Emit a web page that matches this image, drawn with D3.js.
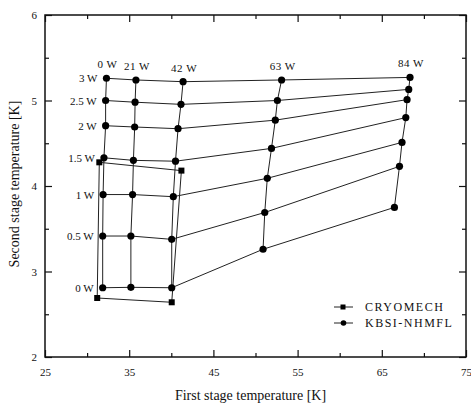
<!DOCTYPE html>
<html>
<head>
<meta charset="utf-8">
<script src="https://cdn.jsdelivr.net/npm/d3@7"></script>
<style>
  body { margin: 0; background: #fff; }
  svg text { font-family: "Liberation Serif", "DejaVu Serif", serif !important; fill: #111; }
</style>
</head>
<body>
<div id="chart"></div>
<script>
// first stage heat loads (columns) and second stage heat loads (rows)
var firstLoads = ['0 W', '21 W', '42 W', '63 W', '84 W'];
var secondLoads = ['0 W', '0.5 W', '1 W', '1.5 W', '2 W', '2.5 W', '3 W'];

// KBSI-NHMFL: first stage temperature per column, ordered by second stage load
var kbsiFirst = [
  [31.85, 31.85, 31.9, 32.0, 32.2, 32.2, 32.3],
  [35.2, 35.2, 35.4, 35.5, 35.65, 35.7, 35.8],
  [40.05, 40.05, 40.24, 40.5, 40.8, 41.15, 41.4],
  [50.9, 51.1, 51.4, 51.9, 52.35, 52.6, 53.1],
  [66.5, 67.1, 67.4, 67.85, 68.0, 68.2, 68.35]
];
// KBSI-NHMFL: second stage temperature
var kbsiSecond = [
  [2.81, 3.415, 3.9, 4.33, 4.705, 5.0, 5.26],
  [2.815, 3.415, 3.9, 4.3, 4.69, 4.98, 5.24],
  [2.81, 3.376, 3.875, 4.29, 4.67, 4.955, 5.22],
  [3.26, 3.69, 4.09, 4.44, 4.77, 5.0, 5.24],
  [3.75, 4.23, 4.51, 4.8, 5.01, 5.13, 5.27]
];

// CRYOMECH: 2 x 2 grid (columns x rows)
var cryoFirst = [[31.2, 31.45], [40.05, 41.2]];
var cryoSecond = [[2.69, 4.277], [2.64, 4.18]];

var xTicks = [25, 35, 45, 55, 65, 75];
var yTicks = [2, 3, 4, 5, 6];

var margin = { top: 15, right: 5, bottom: 51, left: 45 },
  width = 471 - margin.left - margin.right,
  height = 408 - margin.top - margin.bottom;

var svg = d3
  .select('#chart')
  .append('svg')
  .attr('width', width + margin.left + margin.right)
  .attr('height', height + margin.top + margin.bottom)
  .append('g')
  .attr('transform', 'translate(' + margin.left + ',' + margin.top + ')');

var x = d3.scaleLinear().domain([25, 75]).range([0, width]);
var y = d3.scaleLinear().domain([2, 6]).range([height, 0]);

// ticks pointing inward on all four sides
function tickAxis(axisFn, scale, vals, size, label) {
  var a = axisFn(scale).tickValues(vals).tickSizeInner(size).tickSizeOuter(0);
  a.tickFormat(label ? d3.format('d') : '');
  return a;
}
var minorX = d3.range(30, 75, 10), minorY = d3.range(2.5, 6, 1);

svg.append('g').attr('transform', 'translate(0,' + height + ')')
  .call(tickAxis(d3.axisBottom, x, xTicks, -7, true))
  .call(function (g) {
    g.selectAll('text').attr('dy', null).attr('y', 19).style('font-size', '11px');
  });
svg.append('g').attr('transform', 'translate(0,' + height + ')')
  .call(tickAxis(d3.axisBottom, x, minorX, -4, false));
svg.append('g').call(tickAxis(d3.axisTop, x, xTicks, -7, false));
svg.append('g').call(tickAxis(d3.axisTop, x, minorX, -4, false));

svg.append('g')
  .call(tickAxis(d3.axisLeft, y, yTicks, -7, true))
  .call(function (g) {
    g.selectAll('text').attr('x', -8).style('font-size', '11px');
  });
svg.append('g').call(tickAxis(d3.axisLeft, y, minorY, -4, false));
svg.append('g').attr('transform', 'translate(' + width + ',0)')
  .call(tickAxis(d3.axisRight, y, yTicks, -7, false));
svg.append('g').attr('transform', 'translate(' + width + ',0)')
  .call(tickAxis(d3.axisRight, y, minorY, -4, false));

svg.selectAll('.domain').remove();
svg.selectAll('.tick line').attr('stroke', '#111').attr('stroke-width', 1.2);

// frame
svg.append('rect')
  .attr('width', width).attr('height', height)
  .attr('fill', 'none').attr('stroke', '#111').attr('stroke-width', 1.5);

// axis titles
svg.append('text')
  .attr('x', width / 2 - 5).attr('y', height + 43)
  .attr('text-anchor', 'middle').style('font-size', '14px')
  .text('First stage temperature [K]');
svg.append('text')
  .attr('transform', 'rotate(-90)')
  .attr('x', -height / 2 + 2).attr('y', -26)
  .attr('text-anchor', 'middle').style('font-size', '14px')
  .text('Second stage temperature [K]');

var line = d3.line()
  .x(function (d) { return x(d[0]); })
  .y(function (d) { return y(d[1]); });

function gridLines(T1, T2) {
  var cols = T1.length, rows = T1[0].length, paths = [];
  for (var c = 0; c < cols; c++) {
    paths.push(d3.range(rows).map(function (r) { return [T1[c][r], T2[c][r]]; }));
  }
  for (var r = 0; r < rows; r++) {
    paths.push(d3.range(cols).map(function (c) { return [T1[c][r], T2[c][r]]; }));
  }
  return paths;
}

var lineG = svg.append('g');
lineG.selectAll('path.cryo')
  .data(gridLines(cryoFirst, cryoSecond))
  .enter().append('path')
  .attr('d', line).attr('fill', 'none').attr('stroke', '#222').attr('stroke-width', 1);
lineG.selectAll('path.kbsi')
  .data(gridLines(kbsiFirst, kbsiSecond))
  .enter().append('path')
  .attr('d', line).attr('fill', 'none').attr('stroke', '#222').attr('stroke-width', 1);

var cryoPts = [], kbsiPts = [];
cryoFirst.forEach(function (col, c) {
  col.forEach(function (v, r) { cryoPts.push([v, cryoSecond[c][r]]); });
});
kbsiFirst.forEach(function (col, c) {
  col.forEach(function (v, r) { kbsiPts.push([v, kbsiSecond[c][r]]); });
});

svg.selectAll('rect.sq')
  .data(cryoPts).enter().append('rect')
  .attr('x', function (d) { return x(d[0]) - 3; })
  .attr('y', function (d) { return y(d[1]) - 3; })
  .attr('width', 6).attr('height', 6).attr('fill', '#000');

svg.selectAll('circle.dot')
  .data(kbsiPts).enter().append('circle')
  .attr('cx', function (d) { return x(d[0]); })
  .attr('cy', function (d) { return y(d[1]); })
  .attr('r', 3.6).attr('fill', '#000');

// first stage load labels above the top row
svg.selectAll('text.colLabel')
  .data(firstLoads).enter().append('text')
  .attr('x', function (d, i) { return x(kbsiFirst[i][6]) + 1; })
  .attr('y', function (d, i) { return y(kbsiSecond[i][6]) - 10; })
  .attr('text-anchor', 'middle').style('font-size', '11px')
  .style('letter-spacing', '0.5px')
  .text(function (d) { return d; });

// second stage load labels left of the 0 W column
svg.selectAll('text.rowLabel')
  .data(secondLoads).enter().append('text')
  .attr('x', function (d, i) { return x(kbsiFirst[0][i]) - 9; })
  .attr('y', function (d, i) { return y(kbsiSecond[0][i]) + 4; })
  .attr('text-anchor', 'end').style('font-size', '11px')
  .text(function (d) { return d; });

// legend
var legend = svg.append('g').attr('transform', 'translate(289,292)');
var legendItems = ['CRYOMECH', 'KBSI-NHMFL'];
legendItems.forEach(function (name, i) {
  var g = legend.append('g').attr('transform', 'translate(0,' + i * 16 + ')');
  g.append('line').attr('x1', 0).attr('x2', 19).attr('y1', 0).attr('y2', 0)
    .attr('stroke', '#222').attr('stroke-width', 1);
  if (i === 0) {
    g.append('rect').attr('x', 6.5).attr('y', -2.5).attr('width', 5).attr('height', 5).attr('fill', '#000');
  } else {
    g.append('circle').attr('cx', 9.5).attr('cy', 0).attr('r', 2.8).attr('fill', '#000');
  }
  g.append('text').attr('x', 31).attr('y', 4).style('font-size', '12px')
    .style('letter-spacing', '1.5px').text(name);
});
</script>
</body>
</html>
